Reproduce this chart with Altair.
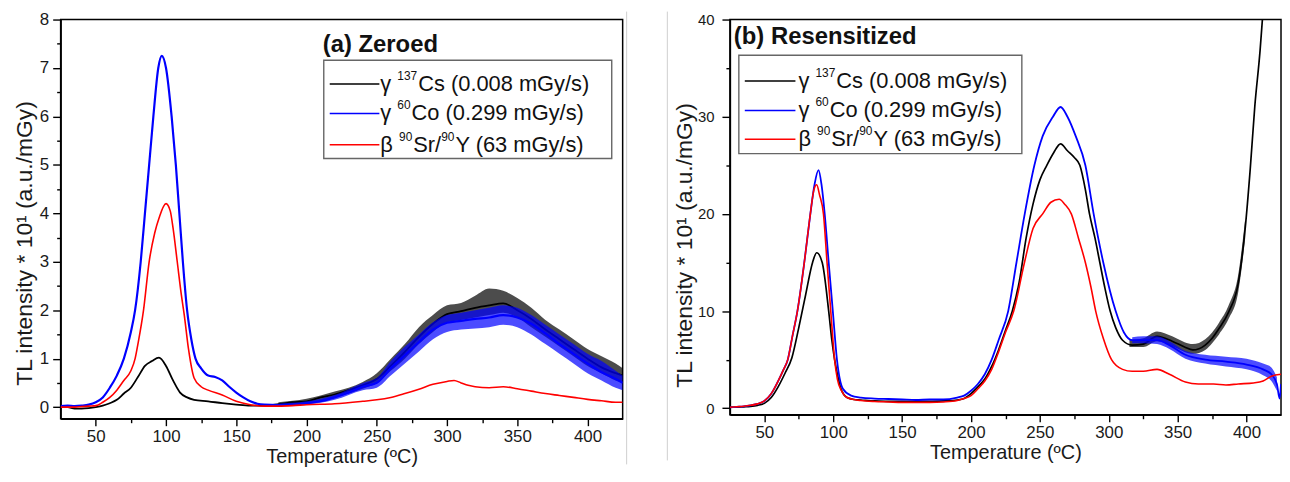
import altair as alt
import pandas as pd

FONT = "Liberation Sans"

# ---------------- Panel (a) Zeroed ----------------
A_CS_T = [25,30,35,40,45,50,55,60,65,70,75,80,85,90,95,100,105,110,115,120,
          130,140,150,160,170,180,190,200,210,220,230,240,250,260,270,280,290,300,
          310,320,330,340,350,360,370,380,390,400,410,420,425]
A_CS_V = [0.0,0.0,-0.03,-0.03,-0.02,0.0,0.03,0.08,0.15,0.28,0.4,0.62,0.85,0.95,1.02,
          0.85,0.55,0.3,0.2,0.15,0.12,0.08,0.05,0.03,0.03,0.06,0.1,0.12,0.2,0.26,
          0.35,0.45,0.58,0.85,1.14,1.45,1.72,1.92,1.98,2.05,2.1,2.14,2.0,1.82,1.6,
          1.4,1.2,1.0,0.82,0.7,0.65]

A_CO_T = [25,30,35,40,45,50,55,60,65,70,75,78,82,85,88,91,94.5,97,100,104,107,109.5,
          112,115,118,121,125,130,135,140,145,150,155,160,165,170,180,190,200,210,
          220,230,240,250,260,270,280,290,300,310,320,330,340,350,360,370,380,390,
          400,410,420,425]
A_CO_V = [0.02,0.03,0.02,0.03,0.05,0.1,0.2,0.4,0.65,1.0,1.55,2.0,3.0,4.0,5.0,6.0,7.0,
          7.25,7.0,6.0,5.0,4.0,3.0,2.0,1.4,1.0,0.8,0.65,0.62,0.55,0.42,0.3,0.2,0.12,
          0.07,0.05,0.04,0.05,0.08,0.12,0.2,0.3,0.42,0.5,0.8,1.07,1.34,1.6,1.74,1.78,
          1.82,1.85,1.9,1.85,1.72,1.52,1.3,1.1,0.9,0.72,0.58,0.5]

A_SR_T = [25,30,35,40,45,50,55,60,65,70,75,78,80,84,88,92,95,100,103,105,108,111,113,
          116,120,125,130,140,150,160,170,180,190,200,220,240,250,260,270,280,290,
          300,305,310,315,320,330,340,350,360,370,380,390,400,410,420,425]
A_SR_V = [0.0,0.0,0.0,0.01,0.02,0.03,0.1,0.2,0.35,0.55,0.75,1.0,1.3,2.0,3.0,3.6,3.9,
          4.2,4.05,3.7,3.0,2.3,1.9,1.2,0.6,0.42,0.35,0.25,0.12,0.05,0.02,0.02,0.03,
          0.05,0.07,0.12,0.15,0.2,0.28,0.37,0.47,0.53,0.55,0.5,0.45,0.42,0.4,0.42,
          0.38,0.33,0.28,0.24,0.2,0.16,0.13,0.1,0.1]

A_BAND_T = [180,200,220,240,250,260,270,280,290,300,310,320,330,340,350,360,370,380,
            390,400,410,420,425]
A_CS_LO = [0.04,0.08,0.2,0.38,0.5,0.75,1.0,1.3,1.55,1.75,1.8,1.85,1.9,1.95,1.85,1.65,
           1.45,1.25,1.05,0.85,0.7,0.55,0.5]
A_CS_HI = [0.1,0.17,0.32,0.52,0.7,1.0,1.3,1.65,1.9,2.1,2.15,2.3,2.45,2.4,2.25,2.05,
           1.8,1.6,1.4,1.2,1.05,0.9,0.8]
A_CO_LO = [0.02,0.05,0.15,0.35,0.4,0.65,0.9,1.15,1.4,1.55,1.6,1.62,1.65,1.7,1.65,1.5,
           1.3,1.1,0.9,0.7,0.55,0.4,0.35]
A_CO_HI = [0.07,0.12,0.25,0.5,0.6,0.95,1.25,1.5,1.75,1.9,1.95,2.0,2.05,2.1,2.05,1.9,
           1.7,1.5,1.3,1.1,0.95,0.75,0.65]

# ---------------- Panel (b) Resensitized ----------------
B_CS_T = [25,30,35,40,45,50,55,60,65,70,75,80,85,88,92,96.7,99,101,103,105.6,110,115,
          120,130,140,150,160,170,180,190,195,200,205,210,215,220,225,230,235,240,
          245,250,255,260,265,270,275,279,283,286,290,293.5,297,301,305,310,317,325,
          335,346,355,361,370,375,380,387,394,399,402.6,406,409.8,411.5]
B_CS_V = [0.1,0.1,0.15,0.2,0.3,0.5,1.1,2.2,3.6,5.2,8.3,11.7,15,16,15,10,7,5,3.5,2,
          1.1,0.9,0.85,0.75,0.7,0.7,0.7,0.7,0.75,0.85,1.0,1.5,2.2,3.0,4.3,6,8,10,13,
          17.5,21,23.5,25,26.3,27.2,26.5,25.8,25,22.5,20,17.5,15,12.5,10,8.3,7,6.5,
          6.6,7.4,6.9,6.3,6.0,6.5,7.2,8.2,9.9,12.9,18.5,24.5,31.1,36.8,40]

B_CO_T = [25,30,35,40,45,50,55,60,64,67,70.5,74,79,83.4,86.4,89.3,91.5,93.8,96.7,99.7,
          102.7,107,113,120,130,140,150,160,170,180,190,195,200,205,210,215,220,227,
          233,239,246,252,259.5,265,270,276,283,289,296,305,311,317,325,335,344,
          355.6,370,385,400,412,418,422,424,425]
B_CO_V = [0.1,0.15,0.2,0.3,0.45,0.75,1.5,2.8,4,5,7.5,10,15,20,23,24.5,23,20,15,10,5,2,
          1.3,1.1,1.0,0.95,0.9,0.85,0.9,0.9,1.1,1.3,1.8,2.5,3.5,5,7,10,15,20,25,28,30,
          31,30,28,25,20,15,10,7.8,7,7,7,6.5,5.5,5,4.8,4.5,4,3.5,2.5,1.0,2.5]

B_SR_T = [25,30,35,40,45,50,55,60,64,67,70.5,74,79,83.4,86,88,90,92.9,95.5,98.2,101,
          103,106,110,115,120,130,140,150,160,170,180,190,195,200,205,210,215,220,
          225,231,238.8,245,252,258,264,268,272.8,278,283,287,290.5,296,302,310,317,
          325,335,344,355.6,365,376,385,394,405,412,418,425]
B_SR_V = [0.1,0.15,0.2,0.3,0.45,0.75,1.5,2.8,4,5,7.5,10,15,20,22.5,23,22,20,15,10,5,3,
          1.8,1.1,0.9,0.8,0.7,0.65,0.6,0.6,0.6,0.65,0.8,1.0,1.3,2.0,2.8,4.0,5.8,7.8,
          10,15,18.5,20,21.2,21.5,21,20,17.5,15,12.5,10,7.2,5,4,3.8,3.8,4.0,3.5,2.7,
          2.5,2.5,2.4,2.5,2.6,2.8,3.3,3.5]

B_CS_BAND_T = [315,325,335,346,355,361,370,375,380,387,394,399]
B_CS_LO = [6.3,6.3,6.9,6.4,5.8,5.6,6.0,6.7,7.6,9.2,12.0,17.5]
B_CS_HI = [7.0,7.2,7.9,7.4,6.8,6.6,7.1,7.8,8.8,10.6,13.8,19.5]
B_CO_BAND_T = [317,325,335,344,355.6,370,385,400,412,418,422]
B_CO_LO = [6.7,6.7,6.6,6.1,5.1,4.6,4.3,4.0,3.4,2.8,1.8]
B_CO_HI = [7.3,7.4,7.4,6.9,5.9,5.5,5.3,5.1,4.6,4.2,3.2]

SERIES_COLORS = ["#000000", "#0000ff", "#ff0000"]
LEGEND_PIECES = [
    [("γ ", False), ("137", True), ("Cs (0.008 mGy/s)", False)],
    [("γ ", False), ("60", True), ("Co (0.299 mGy/s)", False)],
    [("β ", False), ("90", True), ("Sr/", False), ("90", True), ("Y (63 mGy/s)", False)],
]
PANEL_TITLES = ["(a) Zeroed", "(b) Resensitized"]
X_TITLE = "Temperature (ºC)"
Y_TITLE = "TL intensity * 10¹ (a.u./mGy)"
X_TICKS = [50, 75, 100, 125, 150, 175, 200, 225, 250, 275, 300, 325, 350, 375, 400]
YA_TICKS = [0, 0.5, 1, 1.5, 2, 2.5, 3, 3.5, 4, 4.5, 5, 5.5, 6, 6.5, 7, 7.5, 8]
YB_TICKS = [0, 5, 10, 15, 20, 25, 30, 35, 40]

MAIN_FS = 22
SUP_FS = 12
SUP_RAISE = 8
CHAR_W = {" ": 0.278, "(": 0.333, ")": 0.333, ".": 0.278, "/": 0.278, "C": 0.722,
          "G": 0.778, "S": 0.667, "Y": 0.667, "a": 0.556, "m": 0.833, "o": 0.556,
          "r": 0.333, "s": 0.5, "y": 0.5, "γ": 0.5, "β": 0.575}


def text_width(s, size):
    return sum(CHAR_W.get(c, 0.556) for c in s) * size


def legend_text_df(x0, rows_y):
    recs = []
    for pieces, y in zip(LEGEND_PIECES, rows_y):
        x = x0
        for txt, sup in pieces:
            fs = SUP_FS if sup else MAIN_FS
            recs.append({"px": x, "py": y - (SUP_RAISE if sup else 0), "txt": txt, "fs": fs})
            x += text_width(txt, fs) + (1 if sup else 0)
    return pd.DataFrame(recs)


def axis_common():
    return dict(labelFont=FONT, titleFont=FONT, titleFontWeight="normal",
                labelColor="#1a1a1a", titleColor="#1a1a1a",
                domainColor="black", domainWidth=1.5, tickColor="black", tickWidth=1.4,
                grid=False)


def make_panel(series, bands, widths, ydom, yticks, ymajor, title, title_xy, box, sw_x,
               rows_y, text_x, width, height, y_label_fs, y_tick_pad, y_title_pad, title_y,
               divider_x):
    xax = alt.Axis(values=X_TICKS, title=X_TITLE,
                   labelExpr="datum.value % 50 === 0 ? datum.label : ''",
                   tickSize={"condition": {"test": "datum.value % 50 !== 0", "value": 4}, "value": 7},
                   labelFontSize=17, titleFontSize=20,
                   labelPadding=3, titlePadding=2, **axis_common())
    yax = alt.Axis(values=yticks, title=Y_TITLE,
                   labelExpr=f"datum.value % {ymajor} === 0 ? format(datum.value, 'd') : ''",
                   tickSize={"condition": {"test": f"datum.value % {ymajor} !== 0", "value": 4}, "value": 8},
                   labelFontSize=y_label_fs, titleFontSize=23,
                   labelPadding=y_tick_pad, titlePadding=y_title_pad, titleY=title_y, **axis_common())
    xs = alt.Scale(domain=[25, 425], nice=False, zero=False)
    ys = alt.Scale(domain=ydom, nice=False, zero=False)

    layers = []
    layers.append(alt.Chart(pd.DataFrame({"a": [0]})).mark_rule(color="#cfcfcf", strokeWidth=1).encode(
        x=alt.value(divider_x), y=alt.value(-8), y2=alt.value(height + 46)))
    for i, ((t, v), col, sw) in enumerate(zip(series, SERIES_COLORS, widths)):
        if bands[i] is not None:
            bt, lo, hi = bands[i]
            bdf = pd.DataFrame({"T": bt, "V": lo, "V2": hi})
            layers.append(alt.Chart(bdf).mark_area(color=col, opacity=0.7, interpolate="monotone",
                                                   clip=True).encode(
                x=alt.X("T:Q", scale=xs, axis=xax),
                y=alt.Y("V:Q", scale=ys, axis=yax), y2="V2:Q"))
        df = pd.DataFrame({"T": t, "V": v})
        layers.append(alt.Chart(df).mark_line(color=col, strokeWidth=sw, clip=True,
                                              interpolate="monotone").encode(
            x=alt.X("T:Q", scale=xs, axis=xax),
            y=alt.Y("V:Q", scale=ys, axis=yax)))
    layers.append(alt.Chart(pd.DataFrame({"a": [0]})).mark_rect(
        fill="white", stroke="#666666", strokeWidth=1.4).encode(
        x=alt.value(box[0]), x2=alt.value(box[1]), y=alt.value(box[2]), y2=alt.value(box[3])))
    swd = pd.DataFrame({"x1": [sw_x[0]] * 3, "x2": [sw_x[1]] * 3, "y": rows_y, "c": SERIES_COLORS})
    layers.append(alt.Chart(swd).mark_rule(strokeWidth=1.5).encode(
        x=alt.X("x1:Q", scale=None, axis=None), x2="x2:Q",
        y=alt.Y("y:Q", scale=None, axis=None),
        color=alt.Color("c:N", scale=None, legend=None)))
    lt = legend_text_df(text_x, rows_y)
    layers.append(alt.Chart(lt).mark_text(align="left", baseline="middle", font=FONT, color="#111111").encode(
        x=alt.X("px:Q", scale=None, axis=None),
        y=alt.Y("py:Q", scale=None, axis=None),
        text="txt:N",
        size=alt.Size("fs:Q", scale=None, legend=None)))
    layers.append(alt.Chart(pd.DataFrame({"t": [title]})).mark_text(
        align="left", baseline="middle", font=FONT, fontSize=24, fontWeight="bold", color="#111111").encode(
        x=alt.value(title_xy[0]), y=alt.value(title_xy[1]), text="t:N"))
    return alt.layer(*layers).properties(width=width, height=height)


panel_a = make_panel(
    [(A_CS_T, A_CS_V), (A_CO_T, A_CO_V), (A_SR_T, A_SR_V)],
    [(A_BAND_T, A_CS_LO, A_CS_HI), (A_BAND_T, A_CO_LO, A_CO_HI), None],
    [1.8, 2.2, 1.6],
    [-0.24, 8], YA_TICKS, 1, PANEL_TITLES[0], (264, 25.5),
    (265, 555, 41, 140), (271, 321), [65, 94.5, 126], 322,
    566, 402, 17, 4, 2.5, 225, 570)

panel_b = make_panel(
    [(B_CS_T, B_CS_V), (B_CO_T, B_CO_V), (B_SR_T, B_SR_V)],
    [(B_CS_BAND_T, B_CS_LO, B_CS_HI), (B_CO_BAND_T, B_CO_LO, B_CO_HI), None],
    [1.7, 1.8, 1.6],
    [-0.67, 40], YB_TICKS, 10, PANEL_TITLES[1], (4, 18),
    (9, 294, 36, 135), (15, 66), [62, 91.5, 120.5], 69,
    555, 398, 15, 8, 1, 227, -63)

chart = alt.hconcat(panel_a, panel_b, spacing=37).properties(
    padding={"left": 5, "top": 0, "right": 0, "bottom": 0},
    background="white",
).configure_view(stroke="black", strokeWidth=1.5)

chart.save("out.html", embed_options={"renderer": "svg", "actions": False})
